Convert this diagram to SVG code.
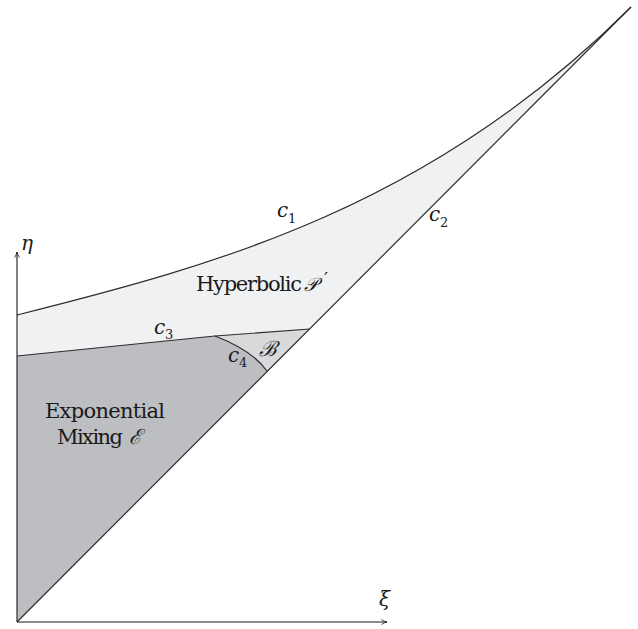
<svg xmlns="http://www.w3.org/2000/svg" width="638" height="629" viewBox="0 0 638 629">
<style>
.curve{fill:none;stroke:#2e2e2e;stroke-width:1.2}
.axis{fill:none;stroke:#1a1a1a;stroke-width:1.1}
text{fill:#1a1a1a}
</style>
<defs>
<marker id="arr" viewBox="0 0 10 10" refX="9" refY="5" markerWidth="7" markerHeight="7" markerUnits="userSpaceOnUse" orient="auto">
<path d="M1,1.5 Q5,4 9,5 Q5,6 1,8.5" fill="none" stroke="#1a1a1a" stroke-width="1.1"/>
</marker>
</defs>
<g id="regions">
<path id="hyperbolic" d="M17,315 C217,265 431,207 631,7 L310,329 L215,336 L17,356 Z" fill="#f0f1f3"/>
<path id="bregion" d="M17,356 L215,336 L310,329 L17,622 Z" fill="#d8d9db"/>
<path id="eregion" d="M17,356 L215,336 Q252.4,350.4 267,371 L17,622 Z" fill="#bdbec1"/>
</g>
<g id="connectors">
<path id="c1" class="curve" d="M17,315 C217,265 431,207 631,7"/>
<path id="c2" class="curve" d="M17,622 L631,7"/>
<path id="c3" class="curve" d="M17,356 L215,336 L310,329"/>
<path id="c4" class="curve" d="M215,336 Q252.4,350.4 267,371"/>
<path id="xaxis" class="axis" d="M17,622 L387,622" marker-end="url(#arr)"/>
<path id="yaxis" class="axis" d="M17,622 L17,252" marker-end="url(#arr)"/>
</g>
<g id="labels">
<text font-family="'DejaVu Serif', serif" font-style="italic" font-size="20" x="21" y="250">η</text>
<text font-family="'DejaVu Serif', serif" font-style="italic" font-size="20" x="379" y="606">ξ</text>
<text font-family="'DejaVu Serif', serif" font-style="italic" font-size="20" x="277" y="217">c</text><text font-family="'DejaVu Serif', serif" font-size="13" x="288" y="223">1</text>
<text font-family="'DejaVu Serif', serif" font-style="italic" font-size="20" x="429" y="221">c</text><text font-family="'DejaVu Serif', serif" font-size="13" x="440" y="227">2</text>
<text font-family="'DejaVu Serif', serif" font-style="italic" font-size="20" x="154" y="334">c</text><text font-family="'DejaVu Serif', serif" font-size="13" x="165" y="339">3</text>
<text font-family="'DejaVu Serif', serif" font-style="italic" font-size="20" x="228" y="362">c</text><text font-family="'DejaVu Serif', serif" font-size="13" x="239" y="367">4</text>
<text font-family="'DejaVu Serif', serif" font-style="italic" font-size="21" x="259" y="356">ℬ</text>
<text font-family="'DejaVu Serif', serif" font-size="21" x="196" y="291" textLength="106">Hyperbolic</text>
<text font-family="'DejaVu Serif', serif" font-style="italic" font-size="19" x="304" y="291">𝒫</text>
<text font-family="'DejaVu Sans', sans-serif" font-size="18" x="324" y="285">′</text>
<text font-family="'DejaVu Serif', serif" font-size="21" x="45" y="418" textLength="120">Exponential</text>
<text font-family="'DejaVu Serif', serif" font-size="21" x="57" y="444" textLength="66">Mixing</text>
<text font-family="'DejaVu Serif', serif" font-style="italic" font-size="21" x="129" y="444">ℰ</text>
</g>
</svg>
